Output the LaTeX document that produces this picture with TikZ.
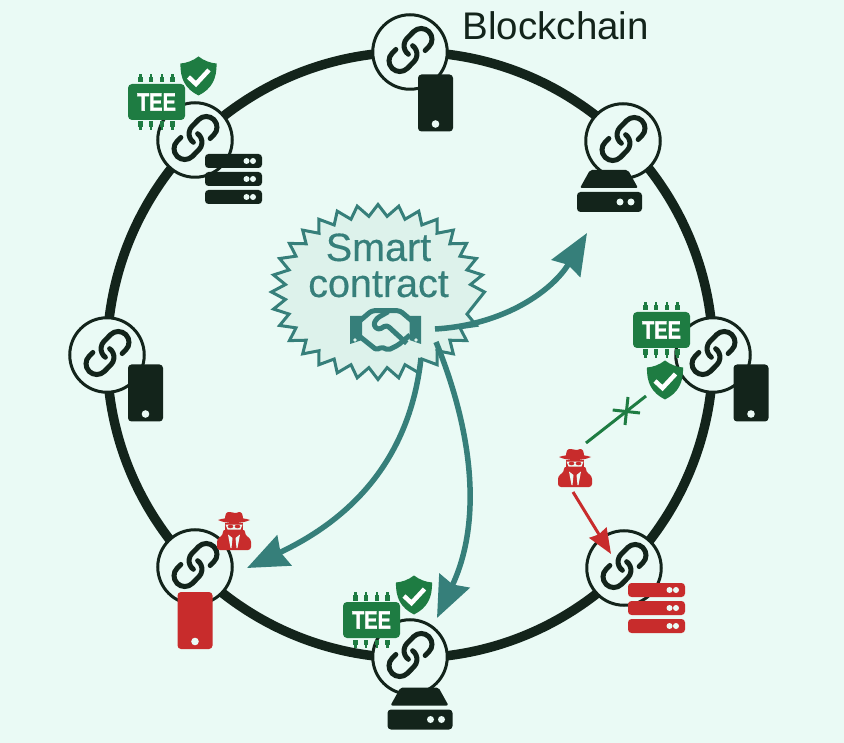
\documentclass[tikz,border=0pt]{standalone}
\usepackage{fontspec}
\setmainfont{Liberation Sans}
\newfontfamily\teefont[FakeBold=1.5]{Liberation Sans Bold}
\newfontfamily\contractfont[FakeBold=0.35]{Liberation Sans}
\usetikzlibrary{arrows.meta}
\definecolor{pagebg}{HTML}{EAFAF5}
\definecolor{chaindark}{HTML}{13241B}
\definecolor{contractteal}{HTML}{367F7A}
\definecolor{contractbg}{HTML}{DDF2EB}
\definecolor{attackred}{HTML}{C82C2C}
\definecolor{teegreen}{HTML}{1E7C42}
\tikzset{
    ringline/.style={draw=chaindark,line width=9.5},
    linkcircle/.style={circle,draw=chaindark,fill=pagebg,line width=3,minimum size=74.5,inner sep=0},
    tealarrow/.style={draw=contractteal,line width=5.5,-{Stealth[length=41,width=33,inset=4]}},
    redarrow/.style={draw=attackred,line width=3,-{Stealth[length=25,width=20,inset=2]}},
    blockedline/.style={draw=teegreen,line width=3},
    chainlink/.pic={
        \draw[chaindark,line width=5,line cap=round,scale=2.15] (-1,-2) arc (233.13:135:5)--(1.46,8.54) arc (135:-45:5)--(6.82,-0.25);
        \draw[chaindark,line width=5,line cap=round,scale=2.15,rotate=180] (-1,-2) arc (233.13:135:5)--(1.46,8.54) arc (135:-45:5)--(6.82,-0.25);
    },
    phone/.pic={
        \fill[#1,rounded corners=3.5] (-17.5,-28.5) rectangle (17.5,28.5);
        \fill[pagebg] (0,-21) circle (3.8);
    },
    serverrack/.pic={
        \foreach \h in {-18,0,18} {
            \fill[#1,rounded corners=3.5] (-28.5,\h-7) rectangle (28.5,\h+7);
            \fill[pagebg] (13,\h) circle (3);
            \fill[pagebg] (19.5,\h) circle (3);
        }
    },
    diskbox/.pic={
        \fill[chaindark,rounded corners=2] (-19.5,21)--(18.5,21)--(28.5,3)--(-29.5,3)--cycle;
        \fill[chaindark,rounded corners=3.5] (-32.5,-1)rectangle(32.5,-21);
        \fill[pagebg] (10.5,-11) circle (3.5);
        \fill[pagebg] (21.5,-11) circle (3.5);
    },
    teechip/.pic={
        \foreach \p in {-16,-5.5,5.5,16} {
            \fill[teegreen] (\p-2.4,19.5) rectangle (\p+2.4,25);
            \fill[teegreen] (\p-1.4,25) rectangle (\p+1.4,28);
            \fill[teegreen] (\p-2.4,-19.5) rectangle (\p+2.4,-25);
            \fill[teegreen] (\p-1.4,-25) rectangle (\p+1.4,-28);
        }
        \fill[teegreen,rounded corners=4] (-28.5,-18)rectangle(28.5,18);
        \node[text=white,font=\fontsize{25}{25}\selectfont\teefont,inner sep=0] (teetext) at (0,0) {\scalebox{.8}[1]{TEE}};
    },
    shieldmark/.pic={
        \fill[teegreen] (0,19.5)..controls (6,15) and (12,13) .. (18,12.5)
            .. controls (18.5,-3) and (13,-13) .. (0,-19.5)
            .. controls (-13,-13) and (-18.5,-3) .. (-18,12.5)
            .. controls (-12,13) and (-6,15) .. (0,19.5)--cycle;
        \draw[white,line width=4.5] (-10,-1)--(-2.5,-8)--(10.5,6);
    },
    spyfigure/.pic={
        \fill[attackred] (-9,10)..controls (-9,17) and (-8,19) .. (-5,19)
            .. controls (-2,19) and (2,17) .. (5,19)
            .. controls (8,19) and (9,17) .. (9,10)--cycle;
        \fill[attackred] (-16,11).. controls (-8,7) and (8,7) .. (16,11)
            .. controls (8,14) and (-8,14) .. (-16,11)--cycle;
        \fill[attackred] (-9,8.5) rectangle (9,-1);
        \fill[pagebg] (-8.5,6.5)--(8.5,6.5)--(6.5,1.5)--(-6.5,1.5)--cycle;
        \fill[attackred] (-3.5,4.5) ellipse (2.8 and 1.8);
        \fill[attackred] (3.5,4.5) ellipse (2.8 and 1.8);
        \fill[attackred,rounded corners=3] (-17,-19)--(-17,-8)--(-11,-4)--(-11,2)
            --(-6,0)--(0,-1)--(6,0)--(11,2)--(11,-4)--(17,-8)--(17,-19)--cycle;
        \fill[pagebg] (-6,-3.5)--(-1.5,-7)--(-2.5,-17)--(-3.5,-17)--cycle;
        \fill[pagebg] (6,-3.5)--(1.5,-7)--(2.5,-17)--(3.5,-17)--cycle;
    }
}
\begin{document}
\begin{tikzpicture}[x=1pt,y=1pt]
    \fill[pagebg] (0,0) rectangle (844,-743);
    \useasboundingbox (0,0) rectangle (844,-743);
    \draw[ringline] (410,-355) circle (303);

    \node[linkcircle] (chaintop) at (410,-52) {};
    \node[linkcircle] (chainupright) at (623,-141) {};
    \node[linkcircle] (chainright) at (713,-355) {};
    \node[linkcircle] (chainlowright) at (624,-568) {};
    \node[linkcircle] (chainbottom) at (410,-657) {};
    \node[linkcircle] (chainlowleft) at (195,-567) {};
    \node[linkcircle] (chainleft) at (107,-355) {};
    \node[linkcircle] (chainupleft) at (195,-140) {};
    \pic at (410.5,-50) {chainlink};
    \pic at (623.5,-139) {chainlink};
    \pic at (713.5,-353) {chainlink};
    \pic at (624.5,-566) {chainlink};
    \pic at (410.5,-655) {chainlink};
    \pic at (195.5,-565) {chainlink};
    \pic at (107.5,-353) {chainlink};
    \pic at (195.5,-138) {chainlink};

    \pic at (435.5,-103) {phone=chaindark};
    \pic at (609.5,-191) {diskbox};
    \pic at (751,-393) {phone=chaindark};
    \pic at (656.5,-608) {serverrack=attackred};
    \pic at (420,-708.5) {diskbox};
    \pic at (195,-620.5) {phone=attackred};
    \pic at (145.5,-393) {phone=chaindark};
    \pic at (233.5,-179) {serverrack=chaindark};

    \pic at (156.5,-102) {teechip};
    \pic at (198.5,-76) {shieldmark};
    \pic at (661.5,-330) {teechip};
    \pic at (665,-380) {shieldmark};
    \pic at (371.5,-620) {teechip};
    \pic at (414,-595) {shieldmark};
    \pic at (575,-468) {spyfigure};
    \pic at (234,-531) {spyfigure};

    \node[anchor=base west,inner sep=0,text=chaindark,font=\fontsize{38.5}{38.5}\selectfont] (blockchainlabel) at (462.5,-39.5) {Blockchain};

    \draw[contractteal,fill=contractbg,line width=3,line join=miter,shift={(378,-292)}] (0:106.5 and 87.5)
        \foreach \a in {0,11.25,...,348} {-- (\a:106.5 and 87.5) -- (\a+5.625:93 and 76)} -- cycle;
    \node[anchor=base,inner sep=0,text=contractteal,font=\fontsize{39.5}{39.5}\contractfont] (smartlabel) at (378.5,-261) {Smart};
    \node[anchor=base,inner sep=0,text=contractteal,font=\fontsize{39.5}{39.5}\contractfont] (contractlabel) at (378.5,-297) {contract};

    \fill[contractteal] (350,-316)--(362,-316)--(362,-340)--(350,-344)--cycle;
    \fill[contractteal] (409.5,-316)--(421,-316)--(421,-344)--(409.5,-340)--cycle;
    \fill[contractbg] (355,-340) circle (1.8);
    \fill[contractbg] (416,-340) circle (1.8);
    \draw[contractteal,line width=5,line join=round,rounded corners=3,shift={(385.5,-330)}] (-25.5,9.3)--(-13.8,19.3)--(14.5,19.3)--(26.2,9.3);
    \draw[contractteal,line width=5,line join=round,rounded corners=2,shift={(385.5,-330)}] (-25.5,-6.7)--(-8.8,-20)--(-4,-17)--(2.8,-20)--(12.8,-15)--(24.5,-5);
    \draw[contractteal,line width=5,line join=round,rounded corners=3,shift={(385.5,-330)}] (2.8,18.3)--(-8.8,11.7)--(-12.2,5)--(-7.2,0)--(1.2,5)--(21.2,-13.3);

    \coordinate (contractout) at (435,-329);
    \coordinate (contractleft) at (421,-358);
    \coordinate (contractdown) at (436,-342);
    \coordinate (upperdisktip) at (587,-233);
    \coordinate (lowerphonetip) at (247,-568);
    \coordinate (lowerdisktip) at (437,-618);
    \draw[tealarrow] (contractout) .. controls (505,-325) and (553,-290) .. (upperdisktip);
    \draw[tealarrow] (contractleft) .. controls (412,-440) and (370,-510) .. (lowerphonetip);
    \draw[tealarrow] (contractdown) .. controls (472,-430) and (483,-520) .. (lowerdisktip);

    \coordinate (teeguard) at (646,-396);
    \coordinate (spyup) at (586,-443);
    \coordinate (spydown) at (573,-492);
    \coordinate (rackhit) at (611,-554);
    \coordinate (crossleft) at (612.7,-410);
    \coordinate (crossright) at (640,-413);
    \coordinate (crosstop) at (628,-397);
    \coordinate (crossbottom) at (625,-425);
    \draw[blockedline] (spyup) -- (teeguard);
    \draw[blockedline] (crossleft) -- (crossright);
    \draw[blockedline] (crosstop) -- (crossbottom);
    \draw[redarrow] (spydown) -- (rackhit);
\end{tikzpicture}
\end{document}
